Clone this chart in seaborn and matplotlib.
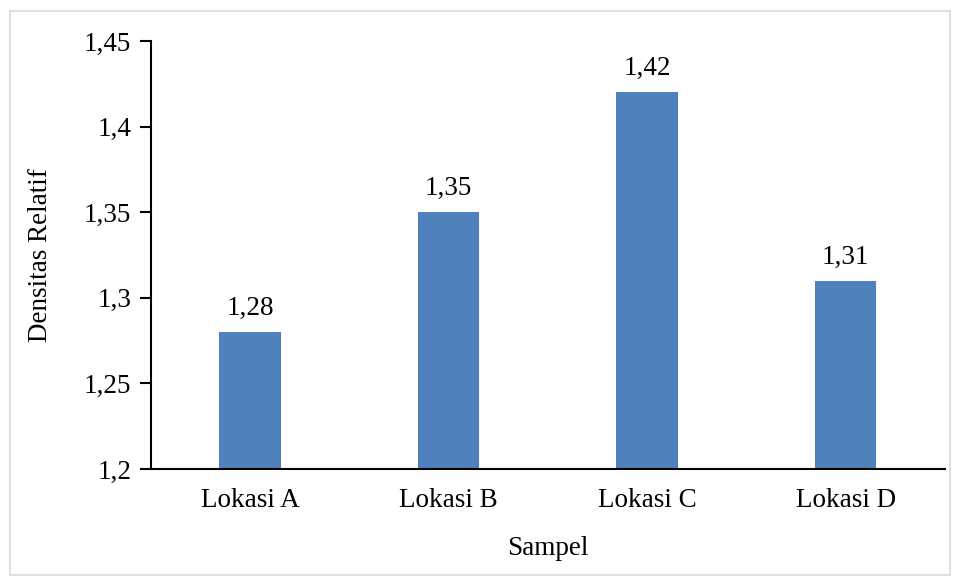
import seaborn as sns
import matplotlib.pyplot as plt
from matplotlib.patches import Rectangle

sampel = ["Lokasi A", "Lokasi B", "Lokasi C", "Lokasi D"]
densitas = [1.28, 1.35, 1.42, 1.31]
y_ticks = [1.2, 1.25, 1.3, 1.35, 1.4, 1.45]
y_labels = ["1,2", "1,25", "1,3", "1,35", "1,4", "1,45"]

sns.set_style("white")
plt.rcParams['font.family'] = ['Liberation Serif', 'DejaVu Serif']
plt.rcParams['text.color'] = 'black'
plt.rcParams['axes.labelcolor'] = 'black'
plt.rcParams['xtick.color'] = 'black'
plt.rcParams['ytick.color'] = 'black'

fs = 19.5
fig = plt.figure(figsize=(9.55, 5.78), dpi=100)
ax = fig.add_axes([0.158, 0.1886, 0.8315, 0.7404])

sns.barplot(x=sampel, y=densitas, color="#4F81BD", width=0.31, saturation=1,
            linewidth=0, ax=ax)

ax.set_ylim(1.2, 1.45)
ax.set_yticks(y_ticks)
ax.set_yticklabels(y_labels, fontsize=fs)
ax.tick_params(axis='x', labelsize=fs, length=0, pad=14)
ax.tick_params(axis='y', length=8, width=1.5, direction='out', left=True, pad=6)

for s in ["top", "right"]:
    ax.spines[s].set_visible(False)
for s in ["left", "bottom"]:
    ax.spines[s].set_color("black")
    ax.spines[s].set_linewidth(1.5)

for i, v in enumerate(densitas):
    ax.annotate(f"{v:.2f}".replace(".", ","), (i, v), xytext=(0, 8),
                textcoords="offset points", ha="center", va="bottom", fontsize=fs)

ax.set_xlabel("Sampel", fontsize=fs, labelpad=16)
ax.set_ylabel("Densitas Relatif", fontsize=fs, labelpad=22)

fig.patches.append(Rectangle((10 / 955, 3 / 578), 940 / 955, 564 / 578,
                             transform=fig.transFigure, fill=False,
                             edgecolor="#d9d9d9", linewidth=1.2))

fig.savefig("out.png", dpi=100)
